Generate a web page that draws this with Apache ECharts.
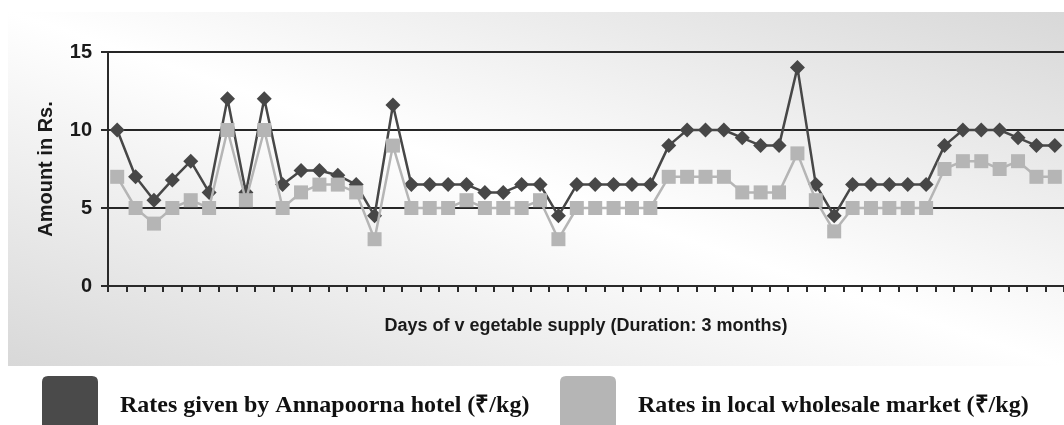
<!DOCTYPE html>
<html>
<head>
<meta charset="utf-8">
<script src="https://cdn.jsdelivr.net/npm/echarts@6/dist/echarts.min.js"></script>
<style>
html,body{margin:0;padding:0;background:#fff;}
#chart{width:1064px;height:425px;}
</style>
</head>
<body>
<div id="chart"></div>
<script>
var days = [];
for (var i = 1; i <= 52; i++) days.push(String(i));

var hotelRates = [10, 7, 5.5, 6.8, 8, 6, 12, 6, 12, 6.5, 7.4, 7.4, 7.1, 6.5, 4.5, 11.6, 6.5, 6.5, 6.5, 6.5, 6, 6, 6.5, 6.5, 4.5, 6.5, 6.5, 6.5, 6.5, 6.5, 9, 10, 10, 10, 9.5, 9, 9, 14, 6.5, 4.5, 6.5, 6.5, 6.5, 6.5, 6.5, 9, 10, 10, 10, 9.5, 9, 9];
var marketRates = [7, 5, 4, 5, 5.5, 5, 10, 5.5, 10, 5, 6, 6.5, 6.5, 6, 3, 9, 5, 5, 5, 5.5, 5, 5, 5, 5.5, 3, 5, 5, 5, 5, 5, 7, 7, 7, 7, 6, 6, 6, 8.5, 5.5, 3.5, 5, 5, 5, 5, 5, 7.5, 8, 8, 7.5, 8, 7, 7];
var yTicks = [0, 5, 10, 15];

var seriesNames = ['Rates given by Annapoorna hotel (₹/kg)', 'Rates in local wholesale market (₹/kg)'];

var chart = echarts.init(document.getElementById('chart'), null, {renderer: 'canvas'});
var iconPath = 'path://M6,0 L50,0 Q56,0 56,6 L56,54 Q56,60 50,60 L6,60 Q0,60 0,54 L0,6 Q0,0 6,0 Z';
var legendText = {
  fontFamily: '"Liberation Serif", "Times New Roman", serif',
  fontWeight: 'bold',
  fontSize: 24,
  color: '#111',
  padding: [0, 0, 20, 17]
};

chart.setOption({
  animation: false,
  backgroundColor: '#ffffff',
  graphic: [{
    type: 'rect',
    z: -10,
    silent: true,
    shape: {x: 8, y: 12, width: 1056, height: 354},
    style: {
      fill: new echarts.graphic.LinearGradient(643, -129, 429, 507, [
        {offset: 0, color: '#d8d8d8'},
        {offset: 0.5, color: '#ffffff'},
        {offset: 1, color: '#d8d8d8'}
      ], true)
    }
  }],
  legend: [{
    data: [seriesNames[0]],
    left: 42, top: 376, padding: 0,
    itemWidth: 56, itemHeight: 60,
    icon: iconPath,
    itemStyle: {color: '#4a4a4a'},
    textStyle: legendText
  }, {
    data: [seriesNames[1]],
    left: 560, top: 376, padding: 0,
    itemWidth: 56, itemHeight: 60,
    icon: iconPath,
    itemStyle: {color: '#b5b5b5'},
    textStyle: legendText
  }],
  grid: {left: 108, right: 0, top: 52, bottom: 139, containLabel: false},
  xAxis: {
    type: 'category',
    data: days,
    boundaryGap: true,
    name: 'Days of v egetable supply (Duration: 3 months)',
    nameLocation: 'middle',
    nameGap: 31,
    nameTextStyle: {fontFamily: '"Liberation Sans", Arial, sans-serif', fontWeight: 'bold', fontSize: 18, color: '#1a1a1a'},
    axisLine: {show: true, lineStyle: {color: '#2a2a2a', width: 2}},
    axisTick: {show: true, interval: 0, length: 6, lineStyle: {color: '#2a2a2a', width: 2}},
    axisLabel: {show: false},
    splitLine: {show: false}
  },
  yAxis: {
    type: 'value',
    min: 0, max: 15, interval: 5,
    name: 'Amount in Rs.',
    nameLocation: 'middle',
    nameGap: 52,
    nameRotate: 90,
    nameTextStyle: {fontFamily: '"Liberation Sans", Arial, sans-serif', fontWeight: 'bold', fontSize: 20, color: '#1a1a1a'},
    axisLine: {show: true, lineStyle: {color: '#2a2a2a', width: 2}},
    axisTick: {show: true, length: 7, lineStyle: {color: '#2a2a2a', width: 2}},
    axisLabel: {
      margin: 16,
      fontFamily: '"Liberation Sans", Arial, sans-serif', fontWeight: 'bold', fontSize: 20, color: '#1a1a1a',
      formatter: function (v) { return yTicks.indexOf(v) >= 0 ? String(v) : ''; }
    },
    splitLine: {show: true, lineStyle: {color: '#262626', width: 2.2}}
  },
  series: [{
    name: seriesNames[0],
    type: 'line',
    data: hotelRates,
    symbol: 'diamond',
    symbolSize: 15,
    showSymbol: true,
    showAllSymbol: true,
    z: 2,
    lineStyle: {color: '#474747', width: 2.5},
    itemStyle: {color: '#474747'}
  }, {
    name: seriesNames[1],
    type: 'line',
    data: marketRates,
    symbol: 'rect',
    symbolSize: 14,
    showSymbol: true,
    showAllSymbol: true,
    z: 3,
    lineStyle: {color: '#b5b5b5', width: 2.5},
    itemStyle: {color: '#b5b5b5'}
  }]
});
</script>
</body>
</html>
